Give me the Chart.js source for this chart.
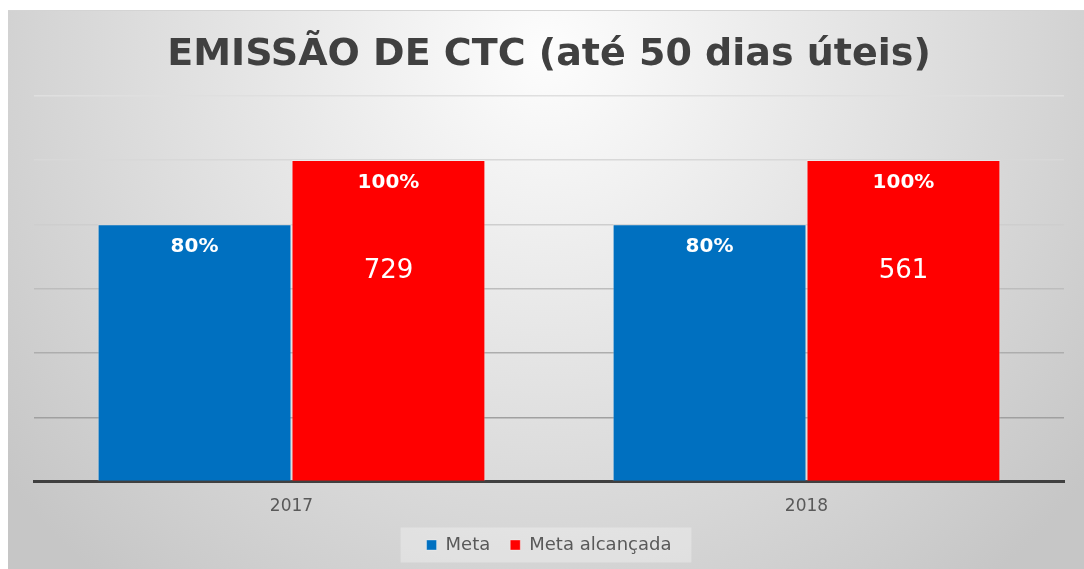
<!DOCTYPE html>
<html>
<head>
<meta charset="utf-8">
<script src="https://cdn.jsdelivr.net/npm/chart.js@4"></script>
<style>
  html, body { margin: 0; padding: 0; background: #fff; }
  #wrap { position: absolute; left: 8px; top: 10px; width: 1076px; height: 559px; border-top: 1px solid #d4d4d4; box-sizing: border-box; }
</style>
</head>
<body>
<div id="wrap"><canvas id="container"></canvas></div>
<script>
const anos = ["2017", "2018"];
const meta = [80, 80];
const metaAlcancada = [100, 100];
const quantidades = [729, 561];
const gridCores = ["#404040", "#a0a0a0", "#adadad", "#bdbdbd", "#cecece", "#d8d8d8", "#dfdfdf"];

const ctx = document.getElementById("container");

// fundo em degradê e caixa da legenda
const fundo = {
  id: "fundo",
  beforeDraw(chart) {
    const c = chart.ctx;
    const w = chart.width, h = chart.height;
    const g = c.createRadialGradient(538, 40, 0, 538, 40, 690);
    g.addColorStop(0, "#fdfdfd");
    g.addColorStop(1, "#c6c6c6");
    c.save();
    c.fillStyle = g;
    c.fillRect(0, 0, w, h);
    const hb = chart.legend.legendHitBoxes;
    if (hb && hb.length) {
      const ultimo = hb[hb.length - 1];
      const cy = hb[0].top + hb[0].height / 2;
      const x0 = hb[0].left - 26;
      const x1 = ultimo.left + ultimo.width + 20;
      c.fillStyle = "rgba(255,255,255,0.3)";
      c.fillRect(x0, cy - 17.5, x1 - x0, 35);
    }
    c.restore();
  },
};

// rótulos dentro das barras
const rotulos = {
  id: "rotulos",
  afterDatasetsDraw(chart) {
    const c = chart.ctx;
    c.save();
    c.fillStyle = "#ffffff";
    c.textAlign = "center";
    c.textBaseline = "middle";
    chart.data.datasets.forEach((ds, i) => {
      const m = chart.getDatasetMeta(i);
      m.data.forEach((bar, j) => {
        c.font = "bold 20px 'DejaVu Sans'";
        c.fillText(ds.data[j] + "%", bar.x, bar.y + 23);
        if (i === 1) {
          c.font = "26px 'DejaVu Sans'";
          c.fillText(String(quantidades[j]), bar.x, bar.y + (bar.base - bar.y) * 0.34 + 2);
        }
      });
    });
    c.restore();
  },
};

const myChart = new Chart(ctx, {
  type: "bar",
  data: {
    labels: anos,
    datasets: [
      {
        label: "Meta",
        data: meta,
        backgroundColor: "#0070c0",
        borderColor: "rgba(255,255,255,0.35)",
        borderWidth: 1,
        categoryPercentage: 0.753,
        barPercentage: 1.0,
      },
      {
        label: "Meta alcançada",
        data: metaAlcancada,
        backgroundColor: "#ff0000",
        borderColor: "rgba(255,255,255,0.35)",
        borderWidth: 1,
        categoryPercentage: 0.753,
        barPercentage: 1.0,
      },
    ],
  },
  options: {
    responsive: true,
    maintainAspectRatio: false,
    animation: false,
    layout: { padding: { left: 26, right: 20, top: 0, bottom: 5 } },
    plugins: {
      title: {
        display: true,
        text: "EMISSÃO DE CTC (até 50 dias úteis)",
        color: "#404040",
        font: { family: "'DejaVu Sans'", size: 38, weight: "bold" },
        padding: { top: 21, bottom: 18 },
      },
      legend: {
        position: "bottom",
        labels: {
          color: "#595959",
          font: { family: "'DejaVu Sans'", size: 18 },
          boxWidth: 10,
          boxHeight: 10,
          padding: 20,
        },
      },
      tooltip: { enabled: false },
    },
    scales: {
      x: {
        grid: { display: false, drawTicks: false, tickLength: 0 },
        border: { display: true, color: "#404040", width: 3 },
        ticks: {
          color: "#595959",
          font: { family: "'DejaVu Sans'", size: 17 },
          padding: 15,
        },
        afterFit(scale) {
          scale.height -= 16;
        },
      },
      y: {
        min: 0,
        max: 120,
        ticks: { display: false, stepSize: 20 },
        border: { display: false },
        grid: {
          drawTicks: false,
          tickLength: 0,
          lineWidth: 1.5,
          color: (c) => gridCores[c.index] || "#dddddd",
        },
      },
    },
  },
  plugins: [fundo, rotulos],
});
</script>
</body>
</html>
